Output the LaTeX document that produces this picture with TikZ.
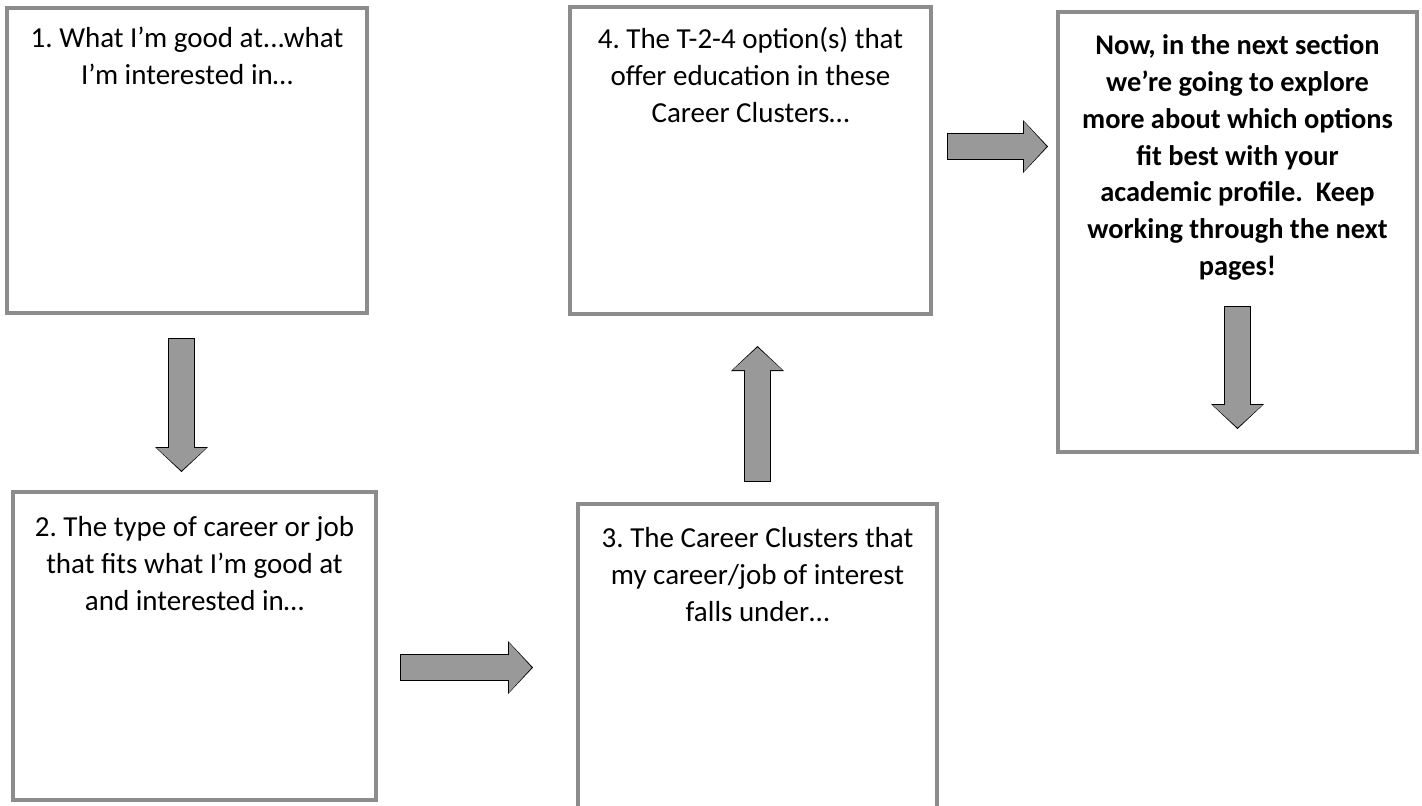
\documentclass[tikz,border=0pt]{standalone}
\usepackage{fontspec}
\setmainfont{Carlito}
\frenchspacing
\usetikzlibrary{arrows.meta, positioning, calc}

\tikzset{
  box/.style={draw=black!45, line width=2pt, inner sep=0pt, outer sep=0pt, minimum width=180pt, minimum height=154pt},
  boxtext/.style={align=center, inner sep=0pt, outer sep=0pt, font=\fontsize{14.5pt}{18.5pt}\selectfont},
  blockarrow/.style 2 args={
    preaction={draw=black, line width=13.5pt, shorten <=#1, shorten >=#2, -{Triangle[width=26.5pt, length=12.5pt, line width=0pt]}},
    draw=black!40, line width=12.5pt, shorten <=#1+0.5pt, shorten >=#2+0.7pt, -{Triangle[width=24.8pt, length=11.3pt, line width=0pt]}}
}

\begin{document}
\begin{tikzpicture}
  \useasboundingbox (0,0) rectangle (711pt,-402.5pt);

  \node [box, anchor=north west, minimum height=152.5pt] (b1) at (3.5pt,-4pt) {};
  \node [boxtext, below=9.5pt of b1.north] (t1) {1. What I’m good at...what\\I’m interested in…};

  \node [box, below=89.5pt of b1, xshift=3.75pt, minimum width=181.5pt] (b2) {};
  \node [boxtext, below=12pt of b2.north] (t2) {2. The type of career or job\\that fits what I’m good at\\and interested in…};

  \node [box, right=101.5pt of b1, minimum width=180.5pt, minimum height=153.5pt] (b4) {};
  \node [boxtext, below=10pt of b4.north] (t4) {4. The T-2-4 option(s) that\\offer education in these\\Career Clusters…};

  \node [box, below=94pt of b4, xshift=3.5pt, minimum width=179.5pt, minimum height=156pt, yshift=-1pt] (b3) {};
  \node [boxtext, below=11.5pt of b3.north] (t3) {3. The Career Clusters that\\my career/job of interest\\falls under…};

  \node [box, right=63.5pt of b4.north east, anchor=north west, yshift=-2.5pt, minimum width=179.5pt, minimum height=220pt] (b5) {};
  \node [boxtext, font=\fontsize{14.2pt}{18.35pt}\selectfont\bfseries, below=11.5pt of b5.north] (t5) {Now, in the next section\\we’re going to explore\\more about which options\\fit best with your\\academic profile.\ \ Keep\\working through the next\\pages!};

  % flow arrows
  \draw [blockarrow={12.5pt}{10pt}] ([xshift=-2.75pt]b1.south) -- ([xshift=-2.75pt]b1.south |- b2.north);
  \draw [blockarrow={12pt}{22.5pt}] ([yshift=-10.75pt]b2.east) -- ([yshift=-10.75pt]b2.east -| b3.west);
  \draw [blockarrow={11pt}{16pt}] (b3.north) -- (b3.north |- b4.south);
  \draw [blockarrow={8pt}{5pt}] ([yshift=7pt]b4.east) -- ([yshift=7pt]b4.east -| b5.west);

  \coordinate [above=73pt of b5.south] (d5a);
  \coordinate [above=11.5pt of b5.south] (d5b);
  \draw [blockarrow={0pt}{0pt}] (d5a) -- (d5b);
\end{tikzpicture}
\end{document}
